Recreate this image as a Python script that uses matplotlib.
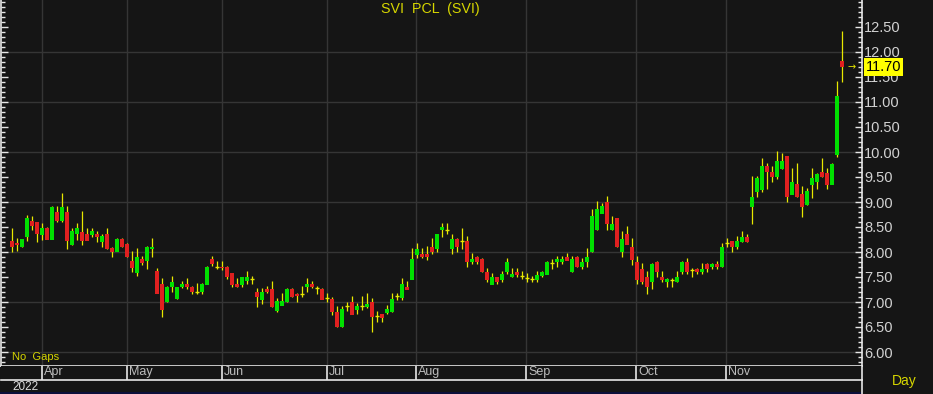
import matplotlib
matplotlib.use("Agg")
import numpy as np
import matplotlib.pyplot as plt
import matplotlib.transforms as mtransforms
from matplotlib.lines import Line2D
from matplotlib.patches import Rectangle
from matplotlib.ticker import MultipleLocator, FixedLocator, FormatStrFormatter

plt.rcParams['font.family'] = ['Liberation Sans', 'DejaVu Sans']

title = "SVI  PCL  (SVI)"
year_label = "2022"
month_labels = ["Apr", "May", "Jun", "Jul", "Aug", "Sep", "Oct", "Nov"]
month_start_idx = [6, 23, 42, 63, 81, 103, 125, 143]
price_ticks = [6.0, 6.5, 7.0, 7.5, 8.0, 8.5, 9.0, 9.5, 10.0, 10.5, 11.0,
               11.5, 12.0, 12.5]
last_price = 11.70

opens = [8.21, 8.17, 8.10, 8.30, 8.62, 8.60, 8.35, 8.47, 8.25, 8.81,
         8.62, 8.81, 8.13, 8.37, 8.41, 8.37, 8.35, 8.37, 8.20, 8.37,
         8.07, 8.01, 8.27, 8.17, 7.82, 7.59, 7.87, 7.83, 8.05, 7.63,
         7.37, 7.00, 7.30, 7.07, 7.30, 7.37, 7.31, 7.20, 7.20, 7.35,
         7.87, 7.70, 7.71, 7.71, 7.57, 7.37, 7.35, 7.43, 7.45, 7.21,
         7.05, 7.27, 7.27, 6.83, 6.93, 7.00, 7.27, 7.17, 7.15, 7.30,
         7.37, 7.27, 7.27, 7.07, 7.07, 6.81, 6.50, 6.91, 7.01, 6.85,
         6.91, 6.90, 7.01, 6.71, 6.77, 6.78, 6.80, 7.11, 7.08, 7.31,
         7.45, 7.95, 7.97, 7.97, 8.11, 8.05, 8.45, 8.45, 8.05, 8.27,
         8.21, 8.21, 7.80, 7.91, 7.87, 7.61, 7.35, 7.50, 7.45, 7.60,
         7.50, 7.61, 7.51, 7.47, 7.45, 7.45, 7.53, 7.55, 7.77, 7.80,
         7.80, 7.91, 7.60, 7.91, 7.70, 7.80, 8.00, 8.45, 8.77, 9.01,
         8.45, 8.67, 8.00, 8.37, 8.11, 7.81, 7.67, 7.50, 7.40, 7.81,
         7.51, 7.40, 7.43, 7.40, 7.60, 7.81, 7.63, 7.67, 7.60, 7.77,
         7.70, 7.77, 7.70, 8.17, 8.21, 8.10, 8.20, 8.31, 8.90, 9.20,
         9.25, 9.71, 9.61, 9.50, 9.65, 9.91, 9.15, 9.37, 9.17, 8.95,
         9.35, 9.40, 9.61, 9.57, 9.35, 9.95, 11.81]
highs = [8.47, 8.27, 8.25, 8.73, 8.71, 8.60, 8.57, 8.50, 8.91, 8.91,
         9.17, 8.91, 8.47, 8.57, 8.81, 8.47, 8.47, 8.41, 8.37, 8.47,
         8.10, 8.27, 8.27, 8.17, 8.03, 8.07, 7.91, 8.11, 8.27, 7.67,
         7.47, 7.31, 7.51, 7.30, 7.41, 7.47, 7.31, 7.37, 7.37, 7.71,
         7.91, 7.81, 7.81, 7.71, 7.57, 7.47, 7.50, 7.61, 7.51, 7.27,
         7.27, 7.31, 7.41, 7.07, 7.17, 7.27, 7.27, 7.17, 7.31, 7.47,
         7.41, 7.31, 7.27, 7.17, 7.10, 6.91, 6.91, 7.00, 7.11, 6.97,
         7.11, 7.17, 7.07, 6.81, 6.77, 6.93, 7.17, 7.17, 7.47, 7.41,
         8.07, 8.17, 8.07, 8.11, 8.27, 8.37, 8.57, 8.57, 8.37, 8.27,
         8.47, 8.31, 7.97, 7.91, 7.87, 7.67, 7.57, 7.50, 7.61, 7.87,
         7.67, 7.67, 7.61, 7.57, 7.51, 7.61, 7.61, 7.81, 7.85, 7.91,
         7.91, 7.97, 7.91, 7.91, 7.87, 8.07, 8.87, 9.01, 8.97, 9.11,
         8.71, 8.67, 8.41, 8.51, 8.27, 7.91, 7.77, 7.61, 7.77, 7.81,
         7.61, 7.47, 7.47, 7.61, 7.81, 7.87, 7.67, 7.67, 7.77, 7.77,
         7.77, 7.81, 8.17, 8.27, 8.21, 8.31, 8.41, 8.37, 9.51, 9.51,
         9.87, 9.77, 9.71, 10.01, 9.97, 9.91, 9.67, 9.77, 9.31, 9.27,
         9.67, 9.57, 9.87, 9.67, 9.77, 11.41, 12.41]
lows = [8.00, 8.03, 8.10, 8.21, 8.43, 8.20, 8.23, 8.25, 8.25, 8.60,
        8.60, 8.05, 8.13, 8.23, 8.13, 8.23, 8.30, 8.20, 8.10, 8.05,
        7.90, 8.01, 8.10, 7.90, 7.59, 7.51, 7.73, 7.65, 7.90, 7.17,
        6.70, 7.00, 7.20, 7.05, 7.27, 7.25, 7.15, 7.15, 7.15, 7.35,
        7.71, 7.65, 7.63, 7.45, 7.30, 7.30, 7.30, 7.35, 7.35, 6.90,
        6.95, 7.17, 6.90, 6.80, 6.93, 7.00, 7.10, 7.00, 7.10, 7.20,
        7.27, 7.15, 7.05, 7.00, 6.73, 6.50, 6.50, 6.81, 6.75, 6.75,
        6.83, 6.87, 6.40, 6.60, 6.60, 6.75, 6.80, 7.04, 7.04, 7.25,
        7.45, 7.87, 7.87, 7.83, 7.95, 8.00, 8.30, 8.35, 7.95, 8.00,
        8.05, 7.70, 7.75, 7.75, 7.60, 7.40, 7.35, 7.35, 7.40, 7.55,
        7.50, 7.50, 7.45, 7.40, 7.40, 7.40, 7.50, 7.55, 7.65, 7.70,
        7.75, 7.83, 7.60, 7.70, 7.65, 7.70, 8.00, 8.45, 8.77, 8.45,
        8.45, 8.10, 7.90, 8.15, 7.73, 7.35, 7.35, 7.15, 7.25, 7.50,
        7.40, 7.30, 7.30, 7.40, 7.55, 7.55, 7.50, 7.55, 7.55, 7.60,
        7.65, 7.65, 7.70, 8.10, 8.00, 8.05, 8.20, 8.20, 8.55, 9.10,
        9.20, 9.25, 9.40, 9.45, 9.65, 9.00, 9.15, 9.10, 8.70, 8.95,
        9.07, 9.25, 9.50, 9.25, 9.35, 9.90, 11.40]
closes = [8.10, 8.13, 8.25, 8.67, 8.53, 8.37, 8.47, 8.25, 8.91, 8.62,
          8.91, 8.23, 8.41, 8.47, 8.23, 8.23, 8.43, 8.31, 8.32, 8.05,
          8.00, 8.27, 8.10, 7.90, 7.69, 7.91, 7.78, 8.11, 8.11, 7.17,
          6.85, 7.31, 7.41, 7.30, 7.37, 7.30, 7.20, 7.20, 7.37, 7.71,
          7.77, 7.70, 7.68, 7.50, 7.35, 7.31, 7.50, 7.50, 7.45, 7.10,
          7.21, 7.20, 6.90, 7.03, 7.03, 7.27, 7.10, 7.12, 7.15, 7.37,
          7.30, 7.27, 7.05, 7.07, 6.80, 6.50, 6.87, 6.91, 6.75, 6.93,
          6.91, 6.97, 6.70, 6.71, 6.68, 6.87, 7.07, 7.11, 7.37, 7.25,
          7.87, 8.07, 7.90, 7.90, 8.00, 8.37, 8.51, 8.45, 8.27, 8.10,
          8.21, 7.80, 7.87, 7.80, 7.60, 7.45, 7.51, 7.40, 7.57, 7.81,
          7.57, 7.55, 7.51, 7.47, 7.45, 7.55, 7.61, 7.81, 7.77, 7.87,
          7.87, 7.83, 7.87, 7.70, 7.81, 7.91, 8.71, 8.87, 8.91, 8.55,
          8.57, 8.10, 8.27, 8.15, 7.85, 7.45, 7.40, 7.30, 7.77, 7.60,
          7.45, 7.47, 7.43, 7.51, 7.81, 7.60, 7.63, 7.60, 7.67, 7.67,
          7.77, 7.70, 8.11, 8.17, 8.10, 8.21, 8.31, 8.20, 9.11, 9.47,
          9.71, 9.60, 9.50, 9.81, 9.81, 9.10, 9.41, 9.10, 8.90, 9.21,
          9.47, 9.57, 9.50, 9.35, 9.77, 11.11, 11.70]

BG = '#151515'
GRID = '#353535'
AXC = '#e6e6e6'
TXT = '#d2d2d2'
YEL = '#d6d600'
WICK = '#e8e800'
UP = '#00e000'
DOWN = '#e02020'

W, H = 933, 394
fig = plt.figure(figsize=(W / 100, H / 100), dpi=100, facecolor=BG)

ax = fig.add_axes([0.5 / W, 28 / H, 861 / W, 366 / H])
ax.set_facecolor(BG)
n = len(closes)
xs = list(range(n))
ax.set_xlim(-2.34, 169.96)
ax.set_ylim(5.72, 13.04)

for v in range(6, 13):
    ax.axhline(v, color=GRID, lw=1, zorder=0)
for m in month_start_idx:
    ax.axvline(m - 0.1, color=GRID, lw=1, zorder=0)

# wicks
ax.vlines(xs, lows, highs, color=WICK, lw=0.9, zorder=2)
# bodies
bw = 0.78
for i in range(n):
    o, c = opens[i], closes[i]
    if abs(c - o) < 1e-9:
        ax.hlines(c, i - bw / 2, i + bw / 2, color=WICK, lw=1.0, zorder=3)
    else:
        col = UP if c > o else DOWN
        ax.bar(i, abs(c - o), bottom=min(o, c), width=bw, color=col,
               edgecolor='none', linewidth=0, zorder=3)

# axes styling
ax.spines['top'].set_visible(False)
for s in ['left', 'right', 'bottom']:
    ax.spines[s].set_color(AXC)
    ax.spines[s].set_linewidth(1.2)
ax.set_xticks([])
ax.yaxis.set_major_locator(FixedLocator(price_ticks))
ax.yaxis.set_minor_locator(MultipleLocator(0.1))
ax.yaxis.set_major_formatter(FormatStrFormatter('%.2f'))
ax.tick_params(axis='y', which='both', left=True, right=True,
               labelleft=False, labelright=True, direction='in',
               color=AXC, labelcolor=TXT, labelsize=10.5, pad=2)
ax.tick_params(axis='y', which='major', length=5, width=1)
ax.tick_params(axis='y', which='minor', length=3, width=1)

# last price marker
trans = mtransforms.blended_transform_factory(ax.transAxes, ax.transData)
ax.text(1.005, last_price, f"{last_price:.2f}", transform=trans, ha='left',
        va='center', fontsize=10.5, color='#000000', zorder=10, clip_on=False,
        bbox=dict(boxstyle='square,pad=0.12', facecolor='#ffff00',
                  edgecolor='none'))
ax.text(n + 1.0, last_price, "\u2192", ha='center', va='center',
        fontsize=7, color=WICK, family='DejaVu Sans')

ax.text(12 / 861, 9 / 366, "No  Gaps", transform=ax.transAxes, ha='left',
        va='center', fontsize=8, color=YEL)

# month strip
ax2 = fig.add_axes([0.5 / W, 14 / H, 861 / W, 14 / H])
ax2.set_facecolor(BG)
ax2.set_xlim(ax.get_xlim())
ax2.set_ylim(0, 1)
ax2.set_xticks([])
ax2.set_yticks([])
for s in ['top', 'left']:
    ax2.spines[s].set_visible(False)
for s in ['bottom', 'right']:
    ax2.spines[s].set_color(AXC)
    ax2.spines[s].set_linewidth(1.2)
for m, lab in zip(month_start_idx, month_labels):
    ax2.axvline(m - 0.1, color=AXC, lw=1.2)
    ax2.text(m + 0.3, 0.98, lab, ha='left', va='top', fontsize=9,
             color='#bcbcbc', clip_on=True)

fig.add_artist(Line2D([861.5 / W, 861.5 / W], [0, 14 / H], color=AXC,
                      lw=1.2, transform=fig.transFigure))
fig.add_artist(Rectangle((0, 0), 861 / W, 2.5 / H, transform=fig.transFigure,
                         facecolor='#0c0f3a', edgecolor='none'))

fig.text(430.5 / W, 1 - 9 / H, title, ha='center', va='center', fontsize=10.3,
         color=YEL)
fig.text(892 / W, 1 - 381 / H, "Day", ha='left', va='center', fontsize=10,
         color=YEL)
fig.text(12 / W, 1 - 387 / H, year_label, ha='left', va='center',
         fontsize=8.5, color='#dcdcdc')

fig.savefig("out.png", dpi=100, facecolor=BG)
